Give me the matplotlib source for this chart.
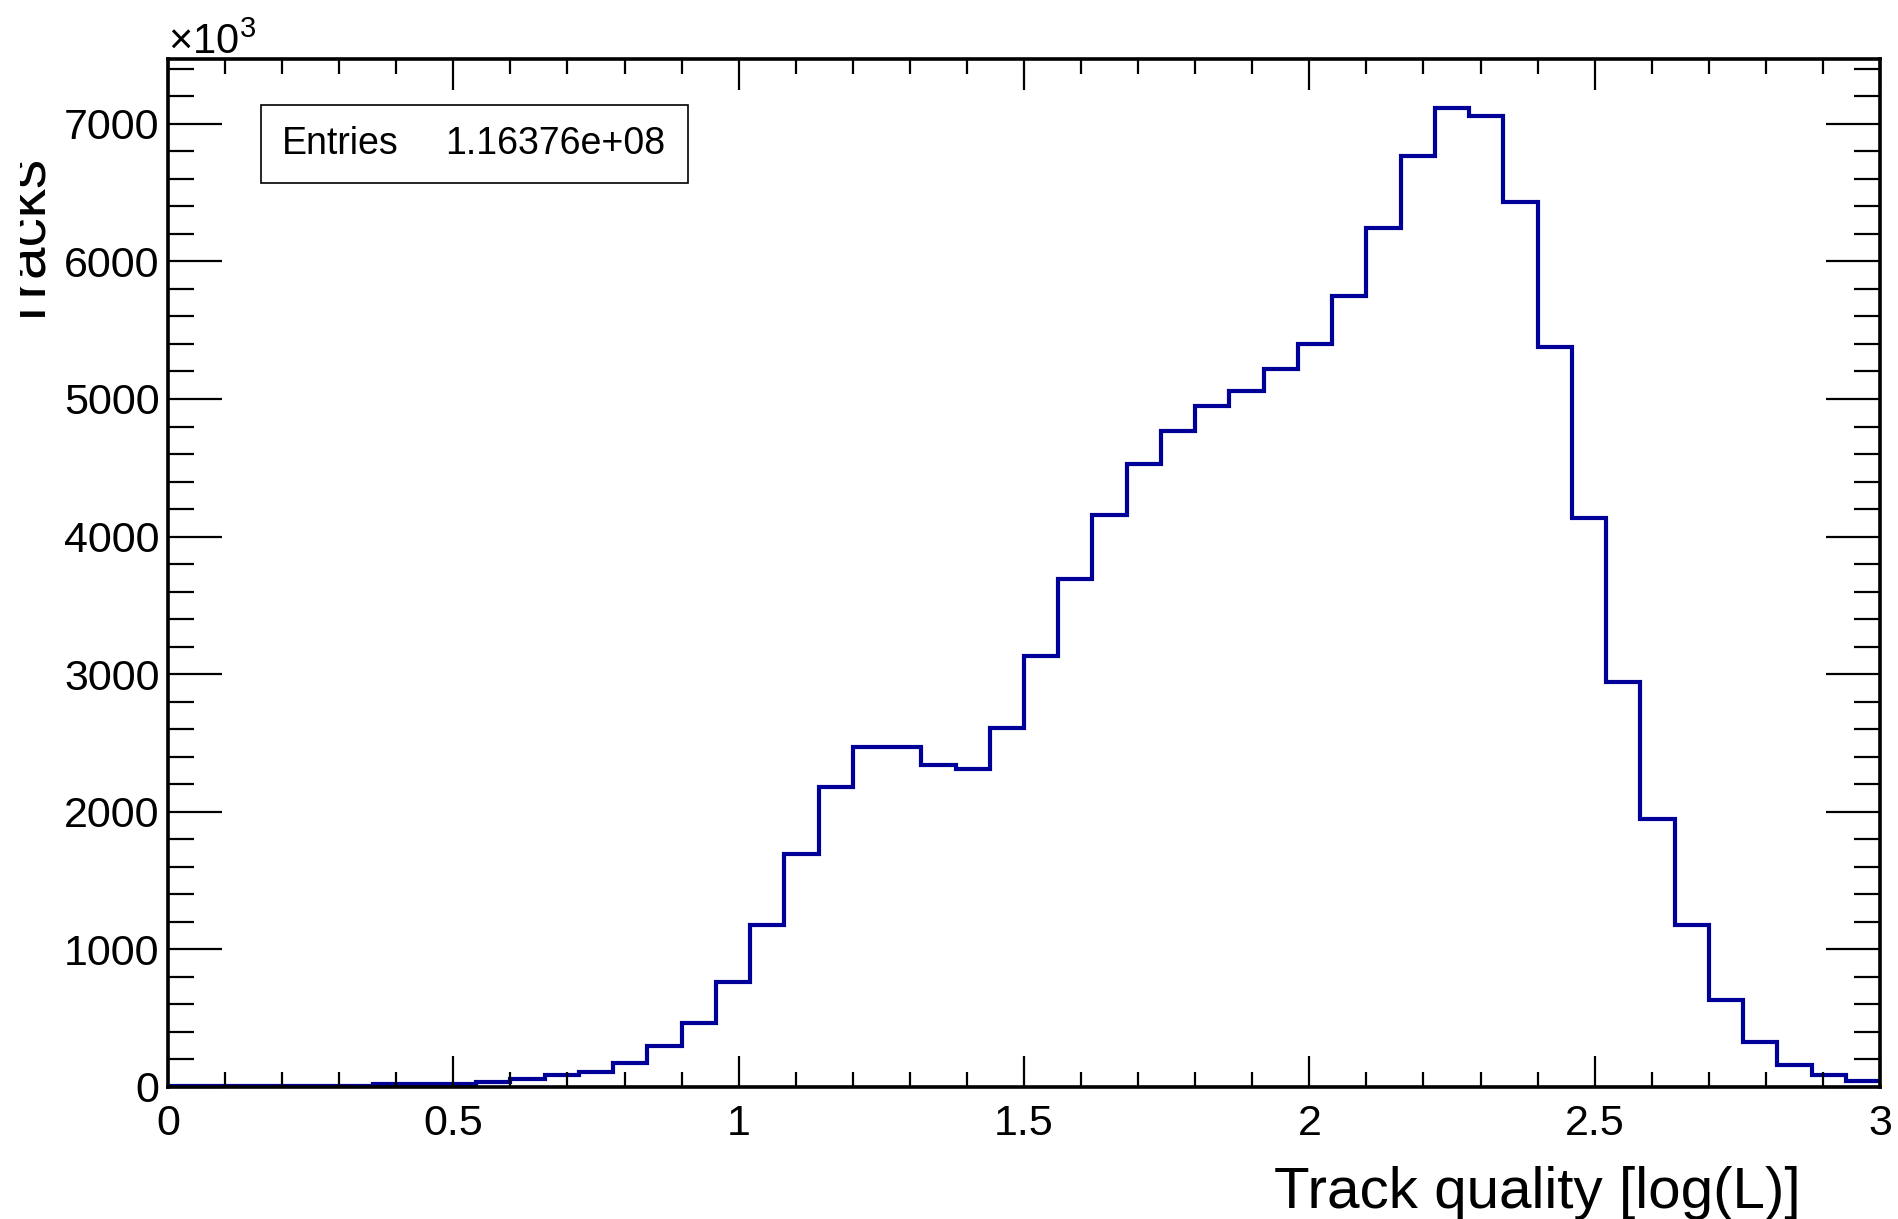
import numpy as np
import matplotlib
matplotlib.use("Agg")
import matplotlib.pyplot as plt
from matplotlib.patches import Rectangle
from matplotlib.ticker import MultipleLocator
from matplotlib.transforms import Bbox, TransformedBbox

# histogram binning: log(L) from 0 to 3 in 50 bins
x_min, x_max, n_bins = 0.0, 3.0, 50
# bin contents (in units of 10^3 tracks)
counts = [
    8, 8, 8, 8, 8, 8, 25, 25, 25, 38,
    60, 85, 110, 175, 300, 466, 765, 1180, 1690, 2180,
    2470, 2470, 2340, 2310, 2610, 3130, 3690, 4160, 4530, 4770,
    4950, 5060, 5215, 5400, 5750, 6245, 6765, 7115, 7055, 6430,
    5380, 4135, 2940, 1950, 1180, 635, 325, 160, 90, 45,
]
entries_label = "Entries"
entries_value = "1.16376e+08"
x_label = "Track quality [log(L)]"
y_label = "Tracks"
y_scale_label = r"$\times$10$^{3}$"

plt.rcParams["font.family"] = ["Liberation Sans", "DejaVu Sans"]
plt.rcParams["mathtext.fontset"] = "custom"
plt.rcParams["mathtext.rm"] = "Liberation Sans"
plt.rcParams["mathtext.it"] = "Liberation Sans:italic"

W, H = 1898, 1219
fig = plt.figure(figsize=(W / 100, H / 100), dpi=100)
ax = fig.add_axes([168 / W, 1 - 1087 / H, (1880 - 168) / W, (1087 - 59) / H])

edges = np.linspace(x_min, x_max, n_bins + 1)
ax.stairs(counts, edges, baseline=None, color="#000099", lw=3)

ax.set_xlim(x_min, x_max)
ax.set_ylim(0, 1.05 * max(counts))

# ROOT-like frame: inward ticks on all four sides
for s in ax.spines.values():
    s.set_linewidth(2.6)
ax.xaxis.set_major_locator(MultipleLocator(0.5))
ax.xaxis.set_minor_locator(MultipleLocator(0.1))
ax.yaxis.set_major_locator(MultipleLocator(1000))
ax.yaxis.set_minor_locator(MultipleLocator(200))
ax.xaxis.set_major_formatter(plt.FuncFormatter(lambda v, p: f"{v:g}"))
ax.tick_params(axis="both", which="both", direction="in",
               top=True, right=True, width=1.6, labelsize=31)
ax.tick_params(axis="x", which="major", length=22, pad=12)
ax.tick_params(axis="x", which="minor", length=11)
ax.tick_params(axis="y", which="major", length=39, pad=6)
ax.tick_params(axis="y", which="minor", length=19)

fig.text(168 / W, 1 - 54 / H, y_scale_label, fontsize=30,
         ha="left", va="baseline")
fig.text(1801 / W, 1 - 1208 / H, x_label, fontsize=42,
         ha="right", va="baseline")
# y title sits partly off the pad, so it is clipped like in the original
ylab = fig.text(44 / W, 1 - 157 / H, y_label, fontsize=42, rotation=90,
                rotation_mode="anchor", ha="right", va="baseline")
ylab.set_clip_box(TransformedBbox(Bbox([[20 / W, 0], [1, 1]]), fig.transFigure))
ylab.set_clip_on(True)

# stats box
fig.patches.append(Rectangle((261 / W, 1 - 183 / H), (688 - 261) / W,
                             (183 - 105) / H, transform=fig.transFigure,
                             facecolor="white", edgecolor="black", lw=1.2))
fig.text(282 / W, 1 - 144 / H, entries_label, fontsize=27,
         ha="left", va="center")
fig.text(665 / W, 1 - 144 / H, entries_value, fontsize=27,
         ha="right", va="center")

fig.savefig("out.png", dpi=100)
